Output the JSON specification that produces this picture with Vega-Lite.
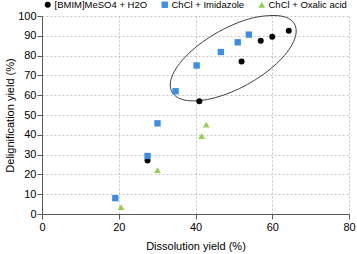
{
  "$schema": "https://vega.github.io/schema/vega-lite/v6.json",
  "autosize": "none",
  "width": 307,
  "height": 198,
  "padding": {"left": 42, "top": 16, "right": 8, "bottom": 40},
  "config": {
    "view": {"stroke": null},
    "font": "Liberation Sans",
    "axis": {
      "labelFont": "Liberation Sans",
      "titleFont": "Liberation Sans",
      "labelFontSize": 11,
      "titleFontSize": 11,
      "titleFontWeight": "normal",
      "labelColor": "#000000",
      "titleColor": "#000000",
      "domainColor": "#595959",
      "tickColor": "#595959",
      "tickSize": 5,
      "labelOverlap": false,
      "labelFlush": false,
      "gridColor": "#c6c6c6",
      "gridDash": [2, 2],
      "gridWidth": 1
    }
  },
  "datasets": {
    "pts": [
      {"dissolution": 27.5, "delignification": 27, "series": "[BMIM]MeSO4 + H2O"},
      {"dissolution": 41, "delignification": 57, "series": "[BMIM]MeSO4 + H2O"},
      {"dissolution": 52, "delignification": 77, "series": "[BMIM]MeSO4 + H2O"},
      {"dissolution": 57, "delignification": 87.5, "series": "[BMIM]MeSO4 + H2O"},
      {"dissolution": 60, "delignification": 89.5, "series": "[BMIM]MeSO4 + H2O"},
      {"dissolution": 64.3, "delignification": 92.5, "series": "[BMIM]MeSO4 + H2O"},
      {"dissolution": 19.1, "delignification": 8, "series": "ChCl + Imidazole"},
      {"dissolution": 27.5, "delignification": 29.3, "series": "ChCl + Imidazole"},
      {"dissolution": 30.1, "delignification": 45.8, "series": "ChCl + Imidazole"},
      {"dissolution": 34.8, "delignification": 62, "series": "ChCl + Imidazole"},
      {"dissolution": 40.3, "delignification": 75, "series": "ChCl + Imidazole"},
      {"dissolution": 46.6, "delignification": 81.8, "series": "ChCl + Imidazole"},
      {"dissolution": 51, "delignification": 86.7, "series": "ChCl + Imidazole"},
      {"dissolution": 53.9, "delignification": 90.6, "series": "ChCl + Imidazole"},
      {"dissolution": 20.6, "delignification": 3.5, "series": "ChCl + Oxalic acid"},
      {"dissolution": 30.1, "delignification": 22.2, "series": "ChCl + Oxalic acid"},
      {"dissolution": 41.6, "delignification": 39.4, "series": "ChCl + Oxalic acid"},
      {"dissolution": 42.8, "delignification": 45.1, "series": "ChCl + Oxalic acid"}
    ],
    "ellipse": [
      {"o": 0, "dissolution": 65.79, "delignification": 95.93},
      {"o": 1, "dissolution": 66.23, "delignification": 91.92},
      {"o": 2, "dissolution": 65.54, "delignification": 87.0},
      {"o": 3, "dissolution": 63.79, "delignification": 81.54},
      {"o": 4, "dissolution": 61.09, "delignification": 75.88},
      {"o": 5, "dissolution": 57.62, "delignification": 70.42},
      {"o": 6, "dissolution": 53.62, "delignification": 65.53},
      {"o": 7, "dissolution": 49.36, "delignification": 61.54},
      {"o": 8, "dissolution": 45.13, "delignification": 58.73},
      {"o": 9, "dissolution": 41.22, "delignification": 57.29},
      {"o": 10, "dissolution": 37.9, "delignification": 57.31},
      {"o": 11, "dissolution": 35.39, "delignification": 58.79},
      {"o": 12, "dissolution": 33.86, "delignification": 61.64},
      {"o": 13, "dissolution": 33.42, "delignification": 65.66},
      {"o": 14, "dissolution": 34.11, "delignification": 70.57},
      {"o": 15, "dissolution": 35.86, "delignification": 76.04},
      {"o": 16, "dissolution": 38.56, "delignification": 81.69},
      {"o": 17, "dissolution": 42.03, "delignification": 87.16},
      {"o": 18, "dissolution": 46.03, "delignification": 92.05},
      {"o": 19, "dissolution": 50.29, "delignification": 96.04},
      {"o": 20, "dissolution": 54.52, "delignification": 98.84},
      {"o": 21, "dissolution": 58.43, "delignification": 100.1},
      {"o": 22, "dissolution": 61.75, "delignification": 100.1},
      {"o": 23, "dissolution": 64.26, "delignification": 98.79}
    ]
  },
  "encoding": {
    "x": {
      "field": "dissolution", "type": "quantitative",
      "scale": {"domain": [0, 80], "nice": false},
      "axis": {"values": [0, 20, 40, 60, 80], "title": "Dissolution yield (%)", "titlePadding": 8, "labelPadding": 2}
    },
    "y": {
      "field": "delignification", "type": "quantitative",
      "scale": {"domain": [0, 100], "nice": false},
      "axis": {"values": [0, 10, 20, 30, 40, 50, 60, 70, 80, 90, 100], "title": "Delignification yield  (%)", "titlePadding": 2, "labelPadding": 1}
    }
  },
  "layer": [
    {
      "data": {"name": "ellipse"},
      "mark": {"type": "line", "stroke": "#404040", "strokeWidth": 1, "interpolate": "cardinal-closed", "clip": false},
      "encoding": {
        "order": {"field": "o", "type": "quantitative"}
      }
    },
    {
      "data": {"name": "pts"},
      "mark": {"type": "point", "filled": true, "opacity": 1},
      "encoding": {
        "color": {
          "field": "series", "type": "nominal",
          "scale": {"domain": ["[BMIM]MeSO4 + H2O", "ChCl + Imidazole", "ChCl + Oxalic acid"], "range": ["#000000", "#3a8ee6", "#92d050"]},
          "legend": {
            "title": null, "orient": "none", "direction": "horizontal",
            "legendX": 1, "legendY": -16, "padding": 0, "gridAlign": "none",
            "labelFontSize": 9.5, "labelFont": "Liberation Sans", "labelColor": "#000000",
            "symbolSize": 25, "labelOffset": 2, "columnPadding": 12, "labelLimit": 200
          }
        },
        "shape": {
          "field": "series", "type": "nominal",
          "scale": {"domain": ["[BMIM]MeSO4 + H2O", "ChCl + Imidazole", "ChCl + Oxalic acid"], "range": ["circle", "square", "triangle-up"]},
          "legend": null
        },
        "size": {
          "field": "series", "type": "nominal",
          "scale": {"domain": ["[BMIM]MeSO4 + H2O", "ChCl + Imidazole", "ChCl + Oxalic acid"], "range": [36, 45, 36]},
          "legend": null
        }
      }
    }
  ]
}
